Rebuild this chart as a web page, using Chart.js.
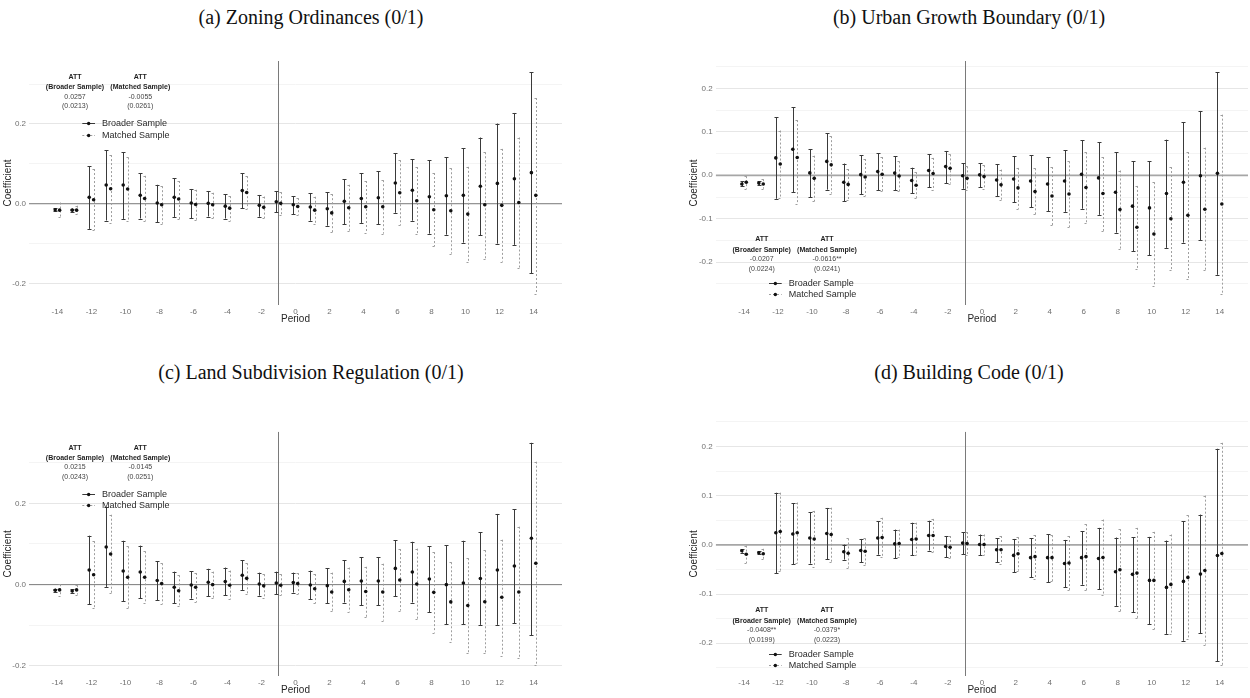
<!DOCTYPE html>
<html>
<head>
<meta charset="utf-8">
<script src="https://cdn.jsdelivr.net/npm/chart.js@4.4.1/dist/chart.umd.min.js"></script>
<style>
  html, body { margin: 0; padding: 0; background: #fff; width: 1250px; height: 698px; overflow: hidden; }
  canvas { position: absolute; }
  .ttl { position: absolute; font-family: "Liberation Serif", "Times New Roman", serif; font-size: 20px;
         color: #111; white-space: nowrap; line-height: 1; transform: translate(-50%, -50%); }
</style>
</head>
<body>
<div class="ttl" style="left:311px;top:17px">(a) Zoning Ordinances (0/1)</div>
<div class="ttl" style="left:969px;top:17px">(b) Urban Growth Boundary (0/1)</div>
<div class="ttl" style="left:311px;top:372px">(c) Land Subdivision Regulation (0/1)</div>
<div class="ttl" style="left:969px;top:372px">(d) Building Code (0/1)</div>

<canvas id="cA" width="620" height="300" style="left:0px;top:40px"></canvas>
<canvas id="cB" width="625" height="300" style="left:625px;top:40px"></canvas>
<canvas id="cC" width="620" height="308" style="left:0px;top:390px"></canvas>
<canvas id="cD" width="625" height="308" style="left:625px;top:390px"></canvas>

<script>
// Event-time periods and axis ticks
const periods = [-14,-13,-12,-11,-10,-9,-8,-7,-6,-5,-4,-3,-2,-1,0,1,2,3,4,5,6,7,8,9,10,11,12,13,14];
const xTicks = [-14,-12,-10,-8,-6,-4,-2,0,2,4,6,8,10,12,14];
const yTicksWide = [-0.2, 0, 0.2];
const yGridWide = [-0.2, -0.1, 0, 0.1, 0.2, 0.3];
const yTicksFine = [-0.2, -0.1, 0, 0.1, 0.2];
const yGridFine = [-0.25, -0.2, -0.15, -0.1, -0.05, 0, 0.05, 0.1, 0.15, 0.2, 0.25];
const seriesNames = ['Broader Sample', 'Matched Sample'];

// (a) Zoning ordinances
const zoningBroadCoef = [-0.015,-0.016,0.016,0.047,0.047,0.021,0.002,0.016,0.002,0.001,-0.006,0.033,-0.004,0.005,-0.0025,-0.008,-0.0125,0.006,0.013,0.015,0.052,0.034,0.0175,0.02,0.021,0.044,0.051,0.0625,0.078];
const zoningBroadLow  = [-0.019,-0.020,-0.063,-0.042,-0.038,-0.037,-0.046,-0.033,-0.036,-0.032,-0.037,-0.011,-0.0325,-0.021,-0.026,-0.0425,-0.055,-0.051,-0.048,-0.051,-0.0225,-0.0425,-0.075,-0.0775,-0.0975,-0.079,-0.1,-0.103,-0.174];
const zoningBroadHigh = [-0.011,-0.012,0.094,0.134,0.129,0.077,0.0475,0.064,0.037,0.032,0.024,0.076,0.022,0.032,0.019,0.026,0.029,0.062,0.076,0.081,0.127,0.112,0.109,0.117,0.139,0.166,0.201,0.2275,0.33];
const zoningMatchCoef = [-0.016,-0.016,0.01,0.0375,0.037,0.013,-0.0025,0.012,-0.002,-0.0025,-0.011,0.028,-0.009,0.001,-0.007,-0.016,-0.023,-0.01,-0.0075,-0.0075,0.0275,0.0075,-0.015,-0.0175,-0.026,-0.0025,-0.004,0.003,0.021];
const zoningMatchLow  = [-0.033,-0.026,-0.066,-0.0475,-0.0425,-0.0425,-0.05,-0.039,-0.04,-0.036,-0.0425,-0.0125,-0.036,-0.0275,-0.0275,-0.05,-0.071,-0.0675,-0.0725,-0.075,-0.054,-0.077,-0.107,-0.125,-0.145,-0.138,-0.145,-0.16,-0.226];
const zoningMatchHigh = [0.003,-0.005,0.087,0.122,0.116,0.07,0.044,0.057,0.035,0.0275,0.019,0.069,0.018,0.029,0.014,0.0175,0.024,0.0475,0.057,0.059,0.109,0.092,0.077,0.089,0.0925,0.129,0.1375,0.166,0.265];
const zoningAtt = ['0.0257', '(0.0213)', '-0.0055', '(0.0261)'];

// (b) Urban growth boundary
const ugbBroadCoef = [-0.02,-0.018,0.04,0.06,0.0055,0.032,-0.016,0.0015,0.0085,0.005,-0.012,0.011,0.02,-0.001,0.001,-0.011,-0.0085,-0.013,-0.02,-0.013,0.0025,-0.006,-0.039,-0.071,-0.075,-0.042,-0.016,-0.001,0.0045];
const ugbBroadLow  = [-0.025,-0.022,-0.054,-0.039,-0.05,-0.033,-0.06,-0.043,-0.0345,-0.0345,-0.041,-0.027,-0.018,-0.031,-0.028,-0.0475,-0.062,-0.073,-0.083,-0.084,-0.077,-0.091,-0.132,-0.175,-0.184,-0.167,-0.155,-0.149,-0.229];
const ugbBroadHigh = [-0.014,-0.014,0.134,0.157,0.0605,0.0965,0.027,0.046,0.051,0.0435,0.0175,0.048,0.056,0.028,0.028,0.026,0.0435,0.046,0.042,0.058,0.081,0.0765,0.053,0.032,0.032,0.082,0.1225,0.148,0.2375];
const ugbMatchCoef = [-0.016,-0.02,0.026,0.041,-0.007,0.024,-0.021,-0.004,0.0025,-0.0015,-0.023,0.004,0.016,-0.007,-0.003,-0.022,-0.029,-0.0375,-0.0475,-0.043,-0.028,-0.042,-0.079,-0.1195,-0.135,-0.1,-0.092,-0.078,-0.066];
const ugbMatchLow  = [-0.031,-0.031,-0.052,-0.066,-0.06,-0.042,-0.0575,-0.047,-0.037,-0.036,-0.052,-0.0345,-0.019,-0.0345,-0.031,-0.0575,-0.077,-0.09,-0.115,-0.119,-0.11,-0.128,-0.1685,-0.215,-0.254,-0.219,-0.238,-0.219,-0.273];
const ugbMatchHigh = [-0.002,-0.009,0.103,0.127,0.045,0.09,0.0145,0.0375,0.042,0.032,0.007,0.04,0.048,0.0205,0.023,0.013,0.017,0.016,0.019,0.032,0.053,0.042,0.011,-0.0245,-0.016,0.019,0.0535,0.0635,0.1395];
const ugbAtt = ['-0.0207', '(0.0224)', '-0.0616**', '(0.0241)'];

// (c) Land subdivision regulation
const subBroadCoef = [-0.014,-0.0155,0.036,0.0925,0.0335,0.031,0.01,-0.0065,-0.001,0.006,0.0075,0.023,0.0015,0.004,0.005,-0.001,-0.0025,0.008,0.009,0.009,0.04,0.031,0.014,0.0,0.004,0.015,0.036,0.046,0.114];
const subBroadLow  = [-0.018,-0.0195,-0.048,-0.0055,-0.041,-0.0335,-0.038,-0.046,-0.0345,-0.028,-0.026,-0.013,-0.027,-0.023,-0.0195,-0.036,-0.046,-0.044,-0.051,-0.051,-0.0285,-0.044,-0.068,-0.0975,-0.0975,-0.099,-0.099,-0.095,-0.124];
const subBroadHigh = [-0.01,-0.0115,0.1205,0.19,0.108,0.096,0.058,0.032,0.033,0.039,0.042,0.06,0.0295,0.032,0.0295,0.0345,0.04,0.0605,0.068,0.068,0.109,0.1055,0.094,0.0965,0.108,0.1285,0.174,0.185,0.349];
const subMatchCoef = [-0.013,-0.013,0.0245,0.0755,0.018,0.018,0.0025,-0.015,-0.0065,0.0,-0.0015,0.0155,-0.003,-0.0015,0.0025,-0.01,-0.018,-0.0125,-0.017,-0.018,0.0115,0.0015,-0.019,-0.0425,-0.0515,-0.042,-0.031,-0.018,0.0525];
const subMatchLow  = [-0.028,-0.0245,-0.0565,-0.021,-0.057,-0.046,-0.0475,-0.0515,-0.0425,-0.032,-0.036,-0.022,-0.032,-0.026,-0.023,-0.046,-0.065,-0.067,-0.0795,-0.0885,-0.064,-0.085,-0.118,-0.14,-0.169,-0.168,-0.1745,-0.18,-0.1975];
const subMatchHigh = [0.001,-0.0015,0.107,0.172,0.094,0.082,0.0525,0.023,0.0285,0.032,0.0345,0.0525,0.0255,0.0255,0.0285,0.026,0.0295,0.042,0.044,0.0515,0.0875,0.0885,0.08,0.055,0.065,0.0845,0.1105,0.1425,0.3025];
const subAtt = ['0.0215', '(0.0243)', '-0.0145', '(0.0251)'];

// (d) Building code
const codeBroadCoef = [-0.012,-0.016,0.0245,0.022,0.014,0.023,-0.014,-0.0115,0.014,0.002,0.011,0.019,-0.0035,0.0035,0.0007,-0.01,-0.0215,-0.026,-0.026,-0.038,-0.026,-0.0277,-0.0547,-0.06,-0.0723,-0.0865,-0.0743,-0.0595,-0.0216];
const codeBroadLow  = [-0.016,-0.0195,-0.058,-0.039,-0.038,-0.029,-0.03,-0.035,-0.02,-0.027,-0.0215,-0.0115,-0.0255,-0.0195,-0.021,-0.035,-0.0555,-0.066,-0.076,-0.086,-0.081,-0.0905,-0.124,-0.137,-0.161,-0.181,-0.195,-0.18,-0.2365];
const codeBroadHigh = [-0.009,-0.0135,0.106,0.0845,0.066,0.075,0.0005,0.012,0.048,0.031,0.045,0.049,0.018,0.026,0.021,0.0135,0.012,0.013,0.0215,0.01,0.0277,0.0345,0.0149,0.0155,0.0162,0.0088,0.048,0.0615,0.1953];
const codeMatchCoef = [-0.019,-0.018,0.027,0.0245,0.012,0.021,-0.017,-0.013,0.015,0.0027,0.012,0.019,-0.005,0.0027,0.0007,-0.01,-0.018,-0.024,-0.026,-0.037,-0.024,-0.0257,-0.0507,-0.0574,-0.0723,-0.0804,-0.0662,-0.052,-0.0176];
const codeMatchLow  = [-0.037,-0.029,-0.0525,-0.037,-0.0445,-0.035,-0.0465,-0.04,-0.0255,-0.0255,-0.021,-0.014,-0.0275,-0.0215,-0.021,-0.038,-0.0525,-0.0695,-0.0735,-0.0925,-0.092,-0.102,-0.135,-0.149,-0.1716,-0.182,-0.192,-0.2027,-0.244];
const codeMatchHigh = [-0.0015,-0.008,0.106,0.086,0.069,0.0755,0.013,0.013,0.055,0.031,0.045,0.0527,0.018,0.026,0.021,0.018,0.0155,0.02,0.0195,0.018,0.042,0.0514,0.0318,0.0345,0.0264,0.021,0.06,0.1,0.2074];
const codeAtt = ['-0.0408**', '(0.0199)', '-0.0379*', '(0.0223)'];

// ---- drawing helpers ----
const SANS = '"Liberation Sans", Arial, Helvetica, sans-serif';
const DODGE = 0.13;          // horizontal offset between the two samples
const CAP = 2;               // half width of error-bar caps, px
const STYLE = [
  { color: '#3a3a3a', dash: [] },
  { color: '#9e9e9e', dash: [2, 2] }
];

function toPoints(coef, low, high, shift) {
  return periods.map((p, i) => ({ x: p + shift, y: coef[i], lo: low[i], hi: high[i] }));
}

function near(v, list) { return list.some(t => Math.abs(t - v) < 1e-9); }

const eventStudyPlugin = {
  id: 'eventStudy',
  beforeDatasetsDraw(chart, args, opts) {
    const { ctx, chartArea: a, scales: { x, y } } = chart;
    ctx.save();
    ctx.beginPath();
    ctx.rect(a.left, a.top, a.right - a.left, a.bottom - a.top);
    ctx.clip();
    // horizontal reference at zero
    const y0 = y.getPixelForValue(0);
    ctx.strokeStyle = opts.zeroColor; ctx.lineWidth = opts.zeroWidth; ctx.setLineDash([]);
    ctx.beginPath(); ctx.moveTo(a.left, y0); ctx.lineTo(a.right, y0); ctx.stroke();
    // vertical reference at the last pre-treatment period
    const xv = Math.round(x.getPixelForValue(-1)) + 0.5;
    ctx.strokeStyle = '#7a7a7a'; ctx.lineWidth = 1;
    ctx.beginPath(); ctx.moveTo(xv, a.top); ctx.lineTo(xv, a.bottom); ctx.stroke();
    // confidence intervals
    chart.data.datasets.forEach((ds, di) => {
      const st = STYLE[di];
      ctx.strokeStyle = st.color; ctx.lineWidth = 1; ctx.setLineDash(st.dash);
      ds.data.forEach(pt => {
        const px = Math.round(x.getPixelForValue(pt.x)) + 0.5;
        const yl = y.getPixelForValue(pt.lo), yh = y.getPixelForValue(pt.hi);
        ctx.beginPath();
        ctx.moveTo(px, yh); ctx.lineTo(px, yl);
        ctx.moveTo(px - CAP, Math.round(yh) + 0.5); ctx.lineTo(px + CAP, Math.round(yh) + 0.5);
        ctx.moveTo(px - CAP, Math.round(yl) + 0.5); ctx.lineTo(px + CAP, Math.round(yl) + 0.5);
        ctx.stroke();
      });
    });
    ctx.restore();
  },
  afterDraw(chart, args, opts) {
    const { ctx, chartArea: a } = chart;
    ctx.save();
    ctx.textAlign = 'center'; ctx.textBaseline = 'middle';
    const rows = opts.anchorBottom ? [-65.5, -55.2, -45.5, -36, -22.3, -11.2] : [16.2, 26.2, 35.8, 45.5, 62.3, 73.5];
    const base = opts.anchorBottom ? a.bottom : a.top;
    const c1 = a.left + 46, c2 = a.left + 111.3;
    ctx.fillStyle = '#1e1e1e';
    ctx.font = 'bold 7px ' + SANS;
    ctx.fillText('ATT', c1, base + rows[0]);
    ctx.fillText('ATT', c2, base + rows[0]);
    ctx.fillText('(' + seriesNames[0] + ')', c1, base + rows[1]);
    ctx.fillText('(' + seriesNames[1] + ')', c2, base + rows[1]);
    ctx.fillStyle = '#444';
    ctx.font = '7px ' + SANS;
    ctx.fillText(opts.att[0], c1, base + rows[2]);
    ctx.fillText(opts.att[1], c1, base + rows[3]);
    ctx.fillText(opts.att[2], c2, base + rows[2]);
    ctx.fillText(opts.att[3], c2, base + rows[3]);
    // legend
    ctx.textAlign = 'left';
    ctx.font = '9px ' + SANS;
    [0, 1].forEach(i => {
      const ly = Math.round(base + rows[4 + i]) + 0.5;
      const k0 = a.left + 53.3, k1 = a.left + 66;
      ctx.strokeStyle = STYLE[i].color; ctx.lineWidth = 1; ctx.setLineDash(STYLE[i].dash);
      ctx.beginPath(); ctx.moveTo(k0, ly); ctx.lineTo(k1, ly); ctx.stroke();
      ctx.setLineDash([]);
      ctx.fillStyle = '#111';
      ctx.beginPath(); ctx.arc((k0 + k1) / 2, ly, 1.7, 0, Math.PI * 2); ctx.fill();
      ctx.fillStyle = '#2a2a2a';
      ctx.fillText(seriesNames[i], a.left + 73, ly);
    });
    ctx.restore();
  }
};

function buildPanel(id, sets, att, cfg) {
  const canvas = document.getElementById(id);
  const W = canvas.width, H = canvas.height;
  const allLow = sets[0][1].concat(sets[1][1]);
  const allHigh = sets[0][2].concat(sets[1][2]);
  const lo = Math.min(...allLow), hi = Math.max(...allHigh);
  const pad = 0.05 * (hi - lo);
  const X_AXIS_H = 22;
  new Chart(canvas, {
    type: 'scatter',
    data: {
      datasets: sets.map((s, i) => ({
        label: seriesNames[i],
        data: toPoints(s[0], s[1], s[2], i === 0 ? -DODGE : DODGE),
        pointRadius: 1.8,
        pointHoverRadius: 1.8,
        pointBackgroundColor: '#111',
        pointBorderWidth: 0,
        showLine: false
      }))
    },
    options: {
      responsive: false,
      animation: false,
      events: [],
      layout: { padding: { left: cfg.padLeft, top: cfg.area.top, right: W - cfg.area.right, bottom: H - cfg.area.bottom - X_AXIS_H } },
      plugins: {
        legend: { display: false },
        tooltip: { enabled: false },
        eventStudy: { att: att, anchorBottom: cfg.anchorBottom, zeroColor: cfg.zeroColor, zeroWidth: cfg.zeroWidth }
      },
      scales: {
        x: {
          type: 'linear', min: -15.67, max: 15.67,
          afterBuildTicks: sc => { sc.ticks = xTicks.map(v => ({ value: v })); },
          afterFit: sc => { sc.height = X_AXIS_H; },
          grid: { display: false, drawTicks: false },
          border: { display: false },
          ticks: { padding: 2, color: '#707070', font: { family: SANS, size: 8 }, maxRotation: 0, autoSkip: false,
                   callback: v => String(v) },
          title: { display: true, text: 'Period', color: '#262626', font: { family: SANS, size: 10 },
                   padding: { top: 0, bottom: 1.7 } }
        },
        y: {
          type: 'linear', min: lo - pad, max: hi + pad,
          afterBuildTicks: sc => { sc.ticks = cfg.grid.map(v => ({ value: v })); },
          afterFit: sc => { sc.width = cfg.area.left - cfg.padLeft; },
          grid: {
            drawTicks: false,
            color: c => near(c.tick.value, cfg.ticks) ? '#e6e6e6' : '#f1f1f1',
            lineWidth: c => near(c.tick.value, cfg.ticks) ? 1 : 0.8
          },
          border: { display: false },
          ticks: { padding: 3, color: '#707070', font: { family: SANS, size: 8 }, autoSkip: false,
                   callback: v => near(v, cfg.ticks) ? v.toFixed(1) : '' },
          title: { display: true, text: 'Coefficient', color: '#262626', font: { family: SANS, size: 10 },
                   padding: { top: cfg.titlePad, bottom: 0 } }
        }
      }
    },
    plugins: [eventStudyPlugin]
  });
}

buildPanel('cA',
  [[zoningBroadCoef, zoningBroadLow, zoningBroadHigh], [zoningMatchCoef, zoningMatchLow, zoningMatchHigh]],
  zoningAtt,
  { area: { left: 29, right: 562, top: 21, bottom: 265 }, padLeft: 0, titlePad: 2.3,
    ticks: yTicksWide, grid: yGridWide, anchorBottom: false, zeroColor: '#7d7d7d', zeroWidth: 1 });

buildPanel('cB',
  [[ugbBroadCoef, ugbBroadLow, ugbBroadHigh], [ugbMatchCoef, ugbMatchLow, ugbMatchHigh]],
  ugbAtt,
  { area: { left: 90.7, right: 623, top: 21, bottom: 265 }, padLeft: 55, titlePad: 8,
    ticks: yTicksFine, grid: yGridFine, anchorBottom: true, zeroColor: '#a6a6a6', zeroWidth: 1.8 });

buildPanel('cC',
  [[subBroadCoef, subBroadLow, subBroadHigh], [subMatchCoef, subMatchLow, subMatchHigh]],
  subAtt,
  { area: { left: 29, right: 562, top: 41.7, bottom: 286 }, padLeft: 0, titlePad: 2.3,
    ticks: yTicksWide, grid: yGridWide, anchorBottom: false, zeroColor: '#7d7d7d', zeroWidth: 1 });

buildPanel('cD',
  [[codeBroadCoef, codeBroadLow, codeBroadHigh], [codeMatchCoef, codeMatchLow, codeMatchHigh]],
  codeAtt,
  { area: { left: 90.7, right: 623, top: 41.7, bottom: 286 }, padLeft: 55, titlePad: 8,
    ticks: yTicksFine, grid: yGridFine, anchorBottom: true, zeroColor: '#a6a6a6', zeroWidth: 1.8 });
</script>
</body>
</html>
